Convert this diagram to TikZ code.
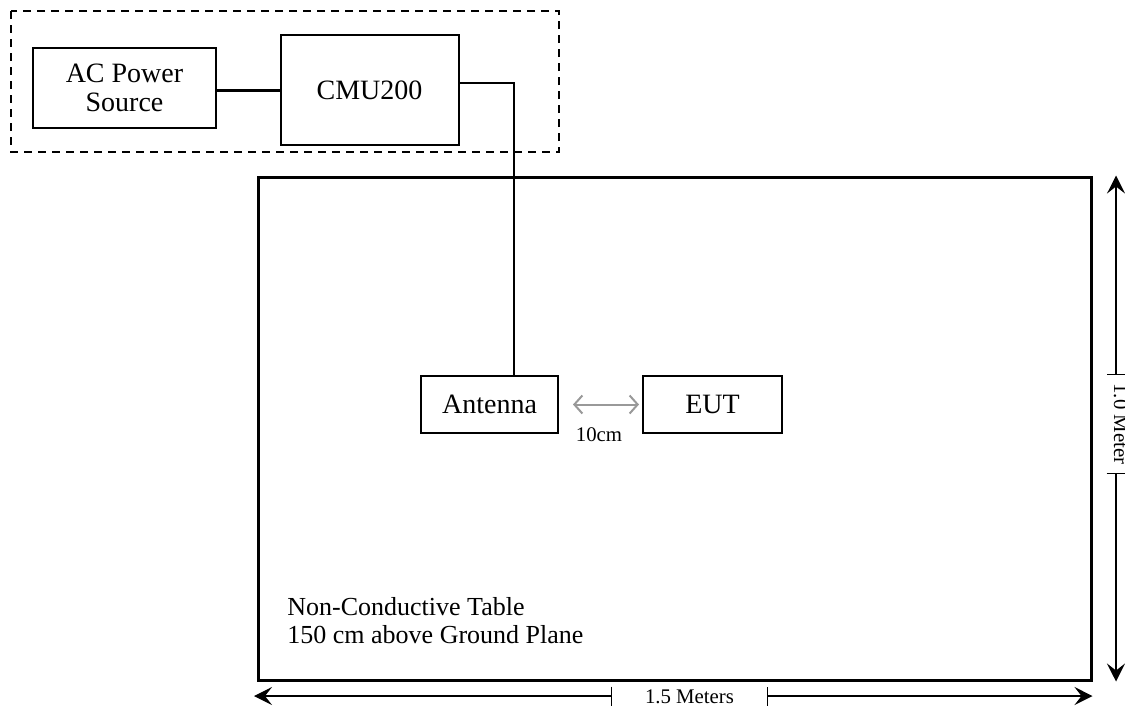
\documentclass[tikz,border=0pt]{standalone}
\usepackage{fontspec}
\setmainfont{Liberation Serif}
\usetikzlibrary{arrows.meta}

\begin{document}
\begin{tikzpicture}[x=0.5pt,y=-0.5pt,
  box/.style={draw,line width=1pt,inner sep=0pt,align=center,
    font=\fontsize{14}{14.6}\selectfont},
  dimline/.style={line width=0.6pt,>={Stealth[length=9pt,width=9pt,inset=3.5pt]}},
  dimtext/.style={font=\fontsize{10.4}{12}\selectfont}]

\useasboundingbox (0,0) rectangle (1125,709);

\node[box,minimum width=91.5pt,minimum height=40pt] (acsrc) at (124.5,87.5) {AC Power\\Source};
\node[box,minimum width=89pt,minimum height=55pt] (cmu) at (369.5,90) {CMU200};
\node[box,minimum width=68.5pt,minimum height=28.5pt] (ant) at (489.5,404.5) {Antenna};
\node[box,minimum width=69.5pt,minimum height=28.5pt] (eut) at (712.5,404.5) {EUT};
\node[draw,line width=1.5pt,inner sep=0pt,minimum width=416.5pt,minimum height=251.5pt] (table) at (674.5,428.5) {};

\coordinate (feed) at (514,83);
\coordinate (tickL) at (612,696);
\coordinate (tickR) at (767,696);
\coordinate (endL) at (254,696);
\coordinate (tickT) at (1116,375);
\coordinate (tickB) at (1116,473);

\draw[dashed,line width=1pt,dash pattern=on 4pt off 3pt] (11,11) rectangle (559,152);

\draw[line width=1.5pt] (acsrc.east |- cmu.west) -- (cmu.west);
\draw[line width=0.75pt] (cmu.east |- feed) -| (ant.north -| feed);
\draw[black!40,line width=1pt,{Straight Barb[length=4pt,width=9pt]}-{Straight Barb[length=4pt,width=9pt]},
  shorten <=7pt,shorten >=1.5pt] (ant.east) -- (eut.west);
\node[dimtext] (gap) at (599,435) {10cm};

\node[anchor=base west,align=left,inner sep=0pt,font=\fontsize{13}{14}\selectfont] (tablenote) at (287,643)
  {Non-Conductive Table\\150 cm above Ground Plane};

\draw[dimline,{Bar[width=9.5pt]}->] (tickL) -- (endL);
\draw[dimline,{Bar[width=9.5pt]}->] (tickR) -- (table.south east |- tickR);
\node[dimtext] (width) at (689.5,697) {1.5 Meters};

\draw[dimline,{Bar[width=9.5pt]}->] (tickT) -- (table.north east -| tickT);
\draw[dimline,{Bar[width=9.5pt]}->] (tickB) -- (table.south east -| tickB);
\node[dimtext,rotate=-90,anchor=base] (depth) at (1114,424) {1.0 Meter};

\end{tikzpicture}
\end{document}
